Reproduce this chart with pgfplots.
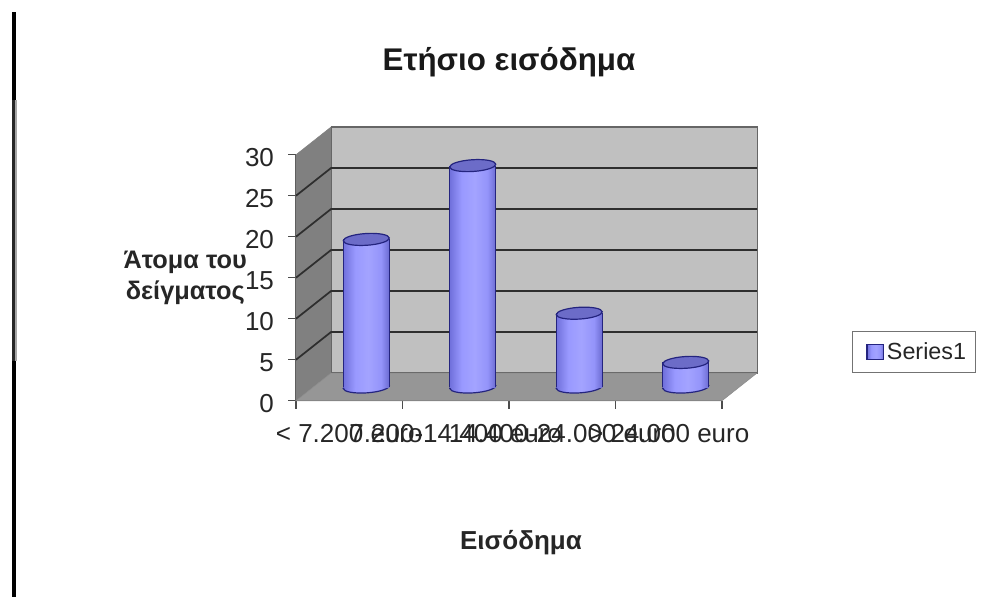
\documentclass[border=0pt]{standalone}
\usepackage{fontspec}
\setmainfont{Liberation Sans}
\usepackage{pgfplots}
\usepackage{pgfplotstable}
\pgfplotsset{compat=1.18}

\definecolor{backwall}{HTML}{C0C0C0}
\definecolor{sidewall}{HTML}{808080}
\definecolor{floorcol}{HTML}{969696}
\definecolor{gridcol}{HTML}{2E2E2E}
\definecolor{barline}{HTML}{24247F}
\definecolor{bartop}{HTML}{6C6CC8}
\definecolor{inktext}{HTML}{262626}

% Horizontal gradient of the cylinder bodies
\pgfdeclarehorizontalshading{cylbody}{100bp}{
  rgb(0bp)=(.44,.44,.86); rgb(25bp)=(.44,.44,.86);
  rgb(38bp)=(.60,.60,1); rgb(52bp)=(.64,.64,1);
  rgb(66bp)=(.58,.58,.98); rgb(75bp)=(.42,.42,.82); rgb(100bp)=(.42,.42,.82)}

% Cylinder caps
\pgfdeclareplotmark{cyltop}{%
  \pgfpathellipse{\pgfpointorigin}{\pgfpoint{17.25pt}{1.1pt}}{\pgfpoint{-.3pt}{4.4pt}}%
  \pgfusepathqfillstroke}
\pgfdeclareplotmark{cylbase}{%
  \pgfpathellipse{\pgfpointorigin}{\pgfpoint{17.25pt}{1.1pt}}{\pgfpoint{-.3pt}{4.4pt}}%
  \pgfshadepath{cylbody}{0}%
  \pgfpathellipse{\pgfpointorigin}{\pgfpoint{17.25pt}{1.1pt}}{\pgfpoint{-.3pt}{4.4pt}}%
  \pgfusepathqstroke}

\pgfplotstableread{
pos val
0.5 18
1.5 27
2.5 9
3.5 3
}\incomedata

\pgfplotsset{cylinder axis/.style={
  at={(234.75pt,157.5pt)}, anchor=origin,
  scale only axis, width=319.5pt, height=184.5pt,
  xmin=0, xmax=4, ymin=0, ymax=30,
  clip=false, hide axis}}

\begin{document}
\begin{tikzpicture}
\useasboundingbox (0pt,0pt) rectangle (735.75pt,447.75pt);

% Vertical rule down the left margin
\fill[black] (9pt,447.75pt-9pt) rectangle (12.2pt,447.75pt-75pt);
\fill[black!85] (9pt,447.75pt-75pt) rectangle (11.2pt,447.75pt-271pt);
\fill[black!35] (11.2pt,447.75pt-75pt) rectangle (12.6pt,447.75pt-271pt);
\fill[black] (9pt,447.75pt-271pt) rectangle (12.2pt,0pt);

% Box of the chart: walls, floor, gridlines, scale and labels
\begin{axis}[
  at={(222pt,147.2pt)}, anchor=origin,
  scale only axis, width=319.5pt, height=184.5pt,
  xmin=0, xmax=4, ymin=0, ymax=30,
  clip=false,
  axis lines=left,
  axis line style={-, draw=black!70, line width=1pt},
  tick align=outside,
  major tick length=6pt,
  tick style={draw=black!70, line width=1pt},
  ytick={0,5,...,30},
  xtick={0,1,2,3,4},
  xticklabels={},
  extra x ticks={0.5,1.5,2.5,3.5},
  extra x tick labels={{< 7.200 euro},{7.200-14.400 euro},{14.400-24.000 euro},{> 24.000 euro}},
  extra x tick style={major tick length=0pt, tick style={draw=none}},
  /pgf/number format/assume math mode=true,
  tick label style={font=\fontsize{19.5}{22}\selectfont, text=inktext},
  yticklabel style={xshift=-7pt, yshift=-2pt},
  xticklabel style={yshift=-14pt},
  title={Ετήσιο εισόδημα},
  title style={at={(rel axis cs:0.5,1.344)}, anchor=center,
    font=\bfseries\fontsize{23.5}{26}\selectfont, text=black!90},
  xlabel={Εισόδημα},
  xlabel style={at={(rel axis cs:0.528,-0.578)}, anchor=center,
    font=\bfseries\fontsize{19.5}{22}\selectfont, text=inktext},
  ylabel={Άτομα του\\δείγματος},
  ylabel style={at={(rel axis cs:-0.26,0.499)}, anchor=center, rotate=-90,
    align=center, font=\bfseries\fontsize{19}{23}\selectfont, text=inktext},
]
\addplot[fill=sidewall, draw=sidewall, forget plot] coordinates {(0,0) (0.329,3.38) (0.329,33.38) (0,30)} -- cycle;
\addplot[fill=backwall, draw=black!60, line width=.8pt, forget plot] coordinates {(0.329,3.38) (4.329,3.38) (4.329,33.38) (0.329,33.38)} -- cycle;
\addplot[fill=floorcol, draw=black!45, forget plot] coordinates {(0,0) (4,0) (4.329,3.38) (0.329,3.38)} -- cycle;
\addplot[gridcol, line width=1.3pt, forget plot] coordinates {(0,5) (0.329,8.38) (4.329,8.38)};
\addplot[gridcol, line width=1.3pt, forget plot] coordinates {(0,10) (0.329,13.38) (4.329,13.38)};
\addplot[gridcol, line width=1.3pt, forget plot] coordinates {(0,15) (0.329,18.38) (4.329,18.38)};
\addplot[gridcol, line width=1.3pt, forget plot] coordinates {(0,20) (0.329,23.38) (4.329,23.38)};
\addplot[gridcol, line width=1.3pt, forget plot] coordinates {(0,25) (0.329,28.38) (4.329,28.38)};
\end{axis}

% Lower ends of the cylinders, halfway back on the floor
\begin{axis}[cylinder axis]
\addplot[only marks, mark=cylbase, mark options={draw=barline, line width=.9pt}, forget plot]
  table[x=pos, y expr=0] {\incomedata};
\end{axis}

% Cylinder bodies, one plot each so that every body carries its own gradient
\begin{axis}[cylinder axis,
  legend style={at={(rel axis cs:1.265,0.142)}, anchor=west,
    draw=black!55, line width=.7pt, fill=white,
    font=\fontsize{17.5}{20}\selectfont, text=inktext,
    inner xsep=5pt, inner ysep=6pt, cells={anchor=west}},
  legend image code/.code={
    \path (-6pt,0pt) -- (0pt,0pt);
    \draw[barline, line width=1.1pt, fill=blue!40!white!85!black] (0pt,-5.6pt) rectangle (12.4pt,5.6pt);
  },
]
\addplot[ybar, bar width=34.5pt, draw=none, shading=cylbody, shade] coordinates {(0.5,18)};
\addlegendentry{Series1}
\addplot[ybar, bar width=34.5pt, draw=none, shading=cylbody, shade, forget plot] coordinates {(1.5,27)};
\addplot[ybar, bar width=34.5pt, draw=none, shading=cylbody, shade, forget plot] coordinates {(2.5,9)};
\addplot[ybar, bar width=34.5pt, draw=none, shading=cylbody, shade, forget plot] coordinates {(3.5,3)};
\addplot[ycomb, no marks, barline, line width=.9pt, forget plot] table[x expr=\thisrow{pos}-0.216, y=val] {\incomedata};
\addplot[ycomb, no marks, barline, line width=.9pt, forget plot] table[x expr=\thisrow{pos}+0.216, y=val] {\incomedata};
\addplot[only marks, mark=cyltop, mark options={draw=barline, fill=bartop, line width=.9pt}, forget plot]
  table[x=pos, y=val] {\incomedata};
\end{axis}
\end{tikzpicture}
\end{document}
